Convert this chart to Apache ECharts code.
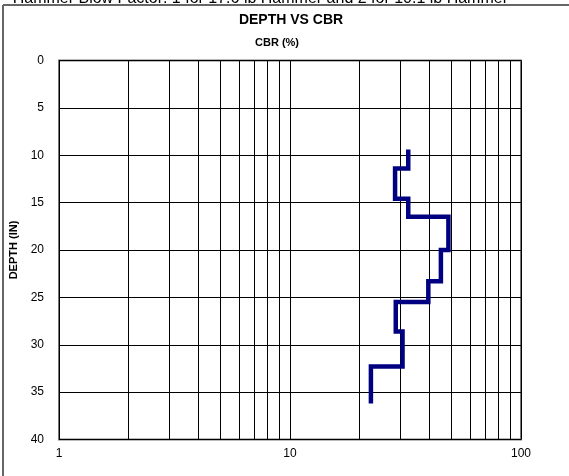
<!DOCTYPE html>
<html>
<head>
<meta charset="utf-8">
<script src="https://cdn.jsdelivr.net/npm/echarts@6/dist/echarts.min.js"></script>
<style>
html,body{margin:0;padding:0;background:#fff;}
#chart{width:569px;height:476px;}
</style>
</head>
<body>
<div id="chart"></div>
<script>
// Layer data (depth in inches, CBR in %)
var layerTop    = [9.4, 11.4, 14.6, 16.5, 20.0, 23.3, 25.5, 28.6, 32.3];
var layerBottom = [11.4, 14.6, 16.5, 20.0, 23.3, 25.5, 28.6, 32.3, 36.2];
var layerCBR    = [32.5, 28.5, 32.5, 48.5, 45.0, 39.7, 28.7, 30.7, 22.4];

var depthTicks = [0, 5, 10, 15, 20, 25, 30, 35, 40];
var cbrTickLabels = [1, 10, 100];
var minorGridValues = [2, 3, 4, 5, 6, 7, 8, 9, 20, 30, 40, 50, 60, 70, 80, 90];

var pathData = [];
for (var i = 0; i < layerCBR.length; i++) {
  pathData.push([layerCBR[i], layerTop[i]]);
  pathData.push([layerCBR[i], layerBottom[i]]);
}

var chart = echarts.init(document.getElementById('chart'), null, {renderer: 'canvas'});
var font = 'Arial, "Liberation Sans", sans-serif';

chart.setOption({
  animation: false,
  backgroundColor: '#fff',
  grid: {left: 59, right: 48, top: 60.5, bottom: 36.5, show: true, borderColor: '#777', borderWidth: 2, backgroundColor: 'transparent'},
  xAxis: {
    type: 'log', logBase: 10, min: 1, max: 100,
    axisLine: {show: false},
    axisTick: {show: false},
    axisLabel: {color: '#000', fontFamily: font, fontSize: 12, margin: 8,
      formatter: function (v) { return cbrTickLabels.indexOf(Math.round(v)) >= 0 ? String(Math.round(v)) : ''; }},
    splitLine: {show: true, lineStyle: {color: '#000', width: 1}}
  },
  yAxis: {
    type: 'value', inverse: true, min: 0, max: 40, interval: 5,
    name: 'DEPTH (IN)', nameLocation: 'middle', nameGap: 32, nameRotate: 90,
    nameTextStyle: {color: '#000', fontFamily: font, fontSize: 11, fontWeight: 'bold'},
    axisLine: {show: true, onZero: false, lineStyle: {color: '#000', width: 1}},
    axisTick: {show: false},
    axisLabel: {color: '#000', fontFamily: font, fontSize: 12, margin: 15,
      formatter: function (v) { return depthTicks.indexOf(v) >= 0 ? String(v) : ''; }},
    splitLine: {show: true, lineStyle: {color: '#000', width: 1}}
  },
  series: [
    {
      type: 'line',
      data: [],
      silent: true,
      markLine: {
        silent: true, symbol: ['none', 'none'], animation: false,
        label: {show: false},
        lineStyle: {color: '#000', width: 1, type: 'solid'},
        data: minorGridValues.map(function (v) { return {xAxis: v}; })
      }
    },
    {
      type: 'line',
      data: pathData,
      showSymbol: false,
      symbol: 'none',
      lineStyle: {color: '#000080', width: 4.5, join: 'miter', cap: 'butt'},
      z: 5
    }
  ],
  graphic: [
    {type: 'line', shape: {x1: 3, y1: 5, x2: 569, y2: 5}, style: {stroke: '#666', lineWidth: 2}},
    {type: 'line', shape: {x1: 3, y1: 5, x2: 3, y2: 476}, style: {stroke: '#666', lineWidth: 2}},
    {type: 'text', x: 508, y: 7, z: -1, style: {text: 'Hammer Blow Factor: 1 for 17.6 lb Hammer and 2 for 10.1 lb Hammer', fill: '#000', font: '16px ' + font, textAlign: 'right', textVerticalAlign: 'bottom'}},
    {type: 'rect', shape: {x: 0, y: 4, width: 569, height: 40}, z: -0.5, style: {fill: '#fff'}},
    {type: 'text', x: 291, y: 20, style: {text: 'DEPTH VS CBR', fill: '#000', font: 'bold 14px ' + font, textAlign: 'center', textVerticalAlign: 'middle'}},
    {type: 'text', x: 277, y: 43, style: {text: 'CBR (%)', fill: '#000', font: 'bold 11px ' + font, textAlign: 'center', textVerticalAlign: 'middle'}}
  ]
});
</script>
</body>
</html>
